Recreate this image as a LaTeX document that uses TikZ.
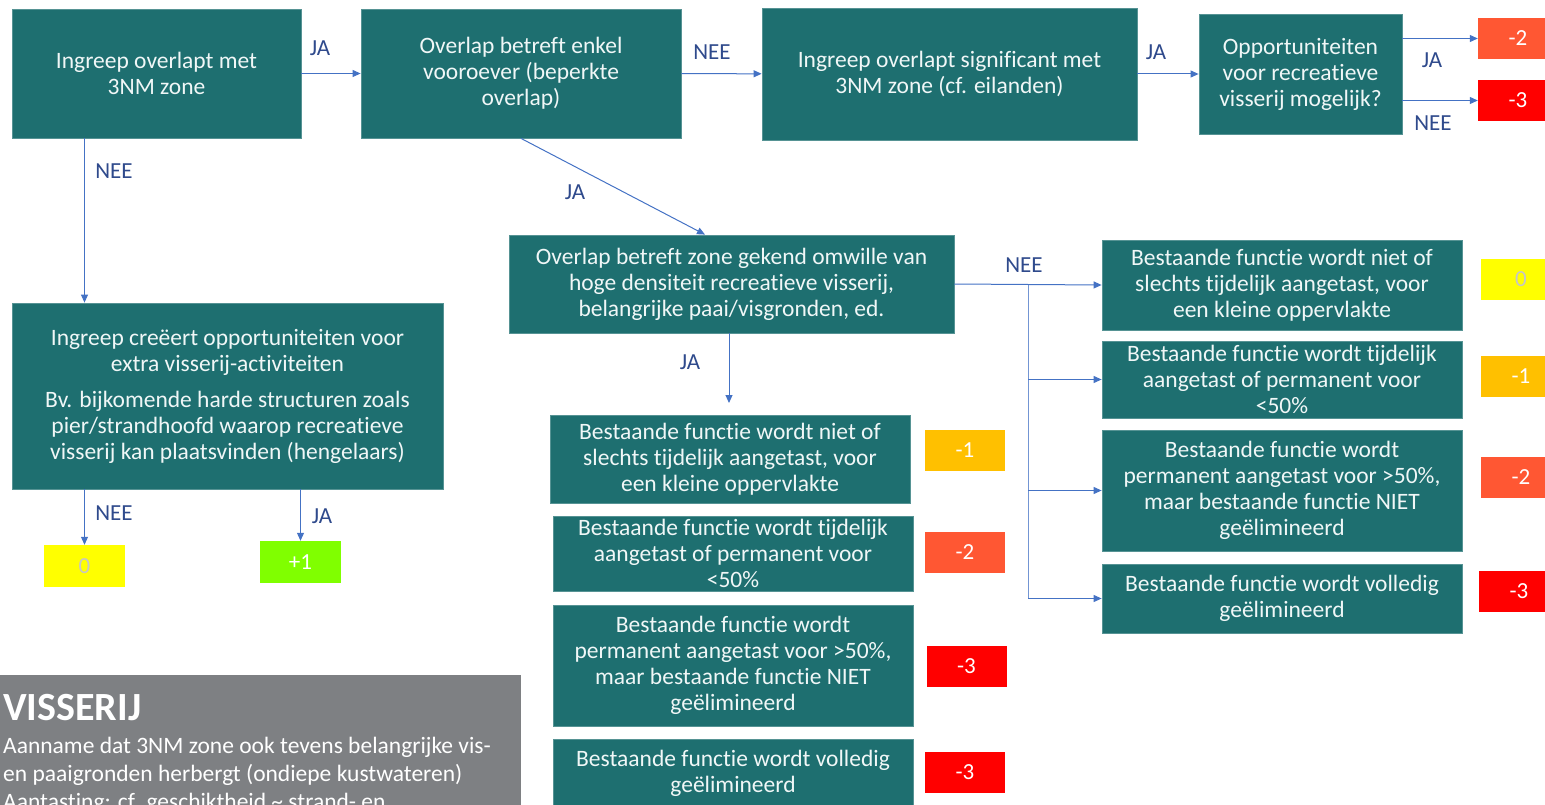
\documentclass[tikz,border=0pt]{standalone}
\usepackage{fontspec}
\setmainfont[Ligatures=NoCommon]{Carlito}
\usetikzlibrary{arrows.meta}

\definecolor{boxteal}{HTML}{1E6F70}
\definecolor{arrowblue}{HTML}{4472C4}
\definecolor{labelblue}{HTML}{2F4A8C}
\definecolor{panelgray}{HTML}{7E8083}
\definecolor{scoreyellow}{HTML}{FFFF00}
\definecolor{scoreamber}{HTML}{FFC000}
\definecolor{scoreorange}{HTML}{FF5733}
\definecolor{scorered}{HTML}{FF0000}
\definecolor{scoregreen}{HTML}{80FF00}

\tikzset{
  stepbox/.style={fill=boxteal, draw=boxteal!75!white, line width=0.8pt, text=white!94!teal,
    align=center, inner sep=0pt, font=\fontsize{23.5}{26}\selectfont},
  score/.style={minimum width=80pt, minimum height=41pt, inner sep=0pt, text=white,
    font=\fontsize{23}{25}\selectfont},
  answer/.style={text=labelblue, inner sep=0pt, font=\fontsize{23}{25}\selectfont},
  flow/.style={draw=arrowblue, line width=1pt, -{Triangle[length=8pt,width=7pt]}},
  branch/.style={draw=arrowblue!75!white, line width=1pt},
}

\begin{document}
\begin{tikzpicture}[x=1pt,y=-1pt]
        \useasboundingbox (0,0) rectangle (1545,805);

        % top row
        \node[stepbox, minimum width=289pt, minimum height=129pt] (overlap) at (156.5,73.5) {Ingreep overlapt met\\3NM zone};
        \node[stepbox, minimum width=320pt, minimum height=129pt] (vooroever) at (521,73.5) {Overlap betreft enkel\\vooroever (beperkte\\overlap)};
        \node[stepbox, minimum width=375pt, minimum height=132pt] (significant) at (949.5,74) {Ingreep overlapt significant met\\3NM zone (cf. eilanden)};
        \node[stepbox, minimum width=203pt, minimum height=120pt] (opport) at (1300.5,74) {Opportuniteiten\\voor recreatieve\\visserij mogelijk?};
        \node[score, fill=scoreorange] (sOppJa) at (1518,38.5) {-2};
        \node[score, fill=scorered] (sOppNee) at (1518,100.5) {-3};

        % left branch
        \node[stepbox, minimum width=431pt, minimum height=186pt] (creeert) at (227.5,396) {Ingreep creëert opportuniteiten voor\\extra visserij-activiteiten\\[10pt]Bv. bijkomende harde structuren zoals\\pier/strandhoofd waarop recreatieve\\visserij kan plaatsvinden (hengelaars)};
        \node[score, fill=scoreyellow, text=gray!45, minimum width=81pt, minimum height=42pt] (sCreNee) at (84.5,566) {0};
        \node[score, fill=scoregreen, minimum width=81pt, minimum height=42pt] (sCreJa) at (300.5,562) {+1};

        % middle branch
        \node[stepbox, minimum width=445pt, minimum height=98pt] (densiteit) at (731.5,284) {Overlap betreft zone gekend omwille van\\hoge densiteit recreatieve visserij,\\belangrijke paai/visgronden, ed.};
        \coordinate (jaEnd) at (729,403);

        \node[stepbox, minimum width=360pt, minimum height=88pt] (midA) at (730,459) {Bestaande functie wordt niet of\\slechts tijdelijk aangetast, voor\\een kleine oppervlakte};
        \node[stepbox, minimum width=360pt, minimum height=75pt] (midB) at (733,553.5) {Bestaande functie wordt tijdelijk\\aangetast of permanent voor\\<50\%};
        \node[stepbox, minimum width=360pt, minimum height=121pt] (midC) at (733,665.5) {Bestaande functie wordt\\permanent aangetast voor >50\%,\\maar bestaande functie NIET\\geëlimineerd};
        \node[stepbox, minimum width=360pt, minimum height=68pt] (midD) at (733,773) {Bestaande functie wordt volledig\\geëlimineerd};
        \node[score, fill=scoreamber] (sMidA) at (965,450.5) {-1};
        \node[score, fill=scoreorange] (sMidB) at (965,552.5) {-2};
        \node[score, fill=scorered] (sMidC) at (966.5,666.5) {-3};
        \node[score, fill=scorered] (sMidD) at (965,772.5) {-3};

        % right branch
        \node[stepbox, minimum width=360pt, minimum height=90pt] (rightA) at (1282,285) {Bestaande functie wordt niet of\\slechts tijdelijk aangetast, voor\\een kleine oppervlakte};
        \node[stepbox, minimum width=360pt, minimum height=77pt] (rightB) at (1282,379.5) {Bestaande functie wordt tijdelijk\\aangetast of permanent voor\\<50\%};
        \node[stepbox, minimum width=360pt, minimum height=121pt] (rightC) at (1282,490.5) {Bestaande functie wordt\\permanent aangetast voor >50\%,\\maar bestaande functie NIET\\geëlimineerd};
        \node[stepbox, minimum width=360pt, minimum height=69pt] (rightD) at (1282,598.5) {Bestaande functie wordt volledig\\geëlimineerd};
        \node[score, fill=scoreyellow, text=gray!45] (sRightA) at (1521,279.5) {0};
        \node[score, fill=scoreamber] (sRightB) at (1521,376) {-1};
        \node[score, fill=scoreorange] (sRightC) at (1521,477.5) {-2};
        \node[score, fill=scorered] (sRightD) at (1519,591.5) {-3};

        % arrows
        \draw[flow] (overlap) -- (vooroever);
        \draw[flow] (vooroever) -- (significant);
        \draw[flow] (significant) -- (opport);
        \draw[flow] (opport.east |- sOppJa) -- (sOppJa.west);
        \draw[flow] (opport.east |- sOppNee) -- (sOppNee.west);
        \draw[flow] (overlap.south -| sCreNee) -- (creeert.north -| sCreNee);
        \draw[flow] (creeert.south -| sCreNee) -- (sCreNee.north);
        \draw[flow] (creeert.south -| sCreJa) -- (sCreJa.north);
        \draw[flow] (vooroever.south) -- ([xshift=-26.5pt]densiteit.north);
        \draw[flow] (densiteit.south -| jaEnd) -- (jaEnd);
        \draw[flow] (densiteit.east) -- (rightA.west) coordinate[pos=0.5] (split);
        \draw[branch] (split) -- (split |- rightD.west);
        \draw[flow] (split |- rightB.west) -- (rightB.west);
        \draw[flow] (split |- rightC.west) -- (rightC.west);
        \draw[flow] (split |- rightD.west) -- (rightD.west);

        % answers
        \node[answer] (jaOverlap) at (320,48) {JA};
        \node[answer] (neeVooroever) at (712,52) {NEE};
        \node[answer] (jaSignificant) at (1156,52) {JA};
        \node[answer] (jaOpport) at (1432,60) {JA};
        \node[answer] (neeOpport) at (1433,123) {NEE};
        \node[answer] (neeOverlap) at (114,171) {NEE};
        \node[answer] (jaVooroever) at (575,192) {JA};
        \node[answer] (neeDensiteit) at (1024,265) {NEE};
        \node[answer] (jaDensiteit) at (690,362) {JA};
        \node[answer] (neeCreeert) at (114,513) {NEE};
        \node[answer] (jaCreeert) at (322,516) {JA};

        % legend panel
        \fill[panelgray] (0,675) rectangle (521,810);
        \node[anchor=north west, inner sep=0pt, align=left, text=white, font=\fontsize{23.5}{28}\selectfont] (visserij) at (3,694) {{\fontsize{40}{44}\selectfont\bfseries VISSERIJ}\\[5pt]Aanname dat 3NM zone ook tevens belangrijke vis-\\en paaigronden herbergt (ondiepe kustwateren)\\Aantasting: cf. geschiktheid \textasciitilde{} strand- en};
    \end{tikzpicture}
\end{document}
